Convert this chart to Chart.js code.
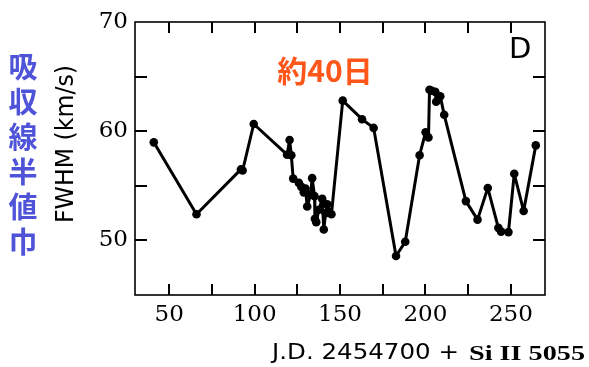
<!DOCTYPE html>
<html>
<head>
<meta charset="utf-8">
<script src="https://cdn.jsdelivr.net/npm/chart.js@4/dist/chart.umd.min.js"></script>
<style>
  html, body { margin: 0; padding: 0; background: #ffffff; }
  #wrap { width: 589px; height: 367px; }
</style>
</head>
<body>
<div id="wrap"><canvas id="c" width="589" height="367"></canvas></div>
<script>
// Julian date offsets (J.D. 2454700 +)
const jd = [41, 66, 92, 93, 99.5, 119, 120.5, 121.5, 122.6, 125.9,
            127.4, 128.8, 129.8, 130.8, 132.8, 133.7, 135.1, 135.3, 136.1, 137.6,
            139.6, 140.5, 141.6, 142.5, 145, 151.6, 162.9, 169.7, 182.8, 188.2,
            196.6, 200.1, 201.8, 202.4, 203.7, 205.8, 206.3, 208.7, 211, 223.7,
            230.5, 236.5, 242.7, 244.3, 248.6, 252, 257.5, 264.6];
// FWHM of Si II 5055 absorption line (km/s)
const fwhm = [58.98, 52.4, 56.5, 56.4, 60.66, 57.85, 59.2, 57.8, 55.66, 55.27,
              54.9, 54.4, 54.75, 53.1, 54.2, 55.7, 54.05, 51.98, 51.67, 52.8,
              53.8, 51.0, 52.5, 53.3, 52.4, 62.8, 61.1, 60.3, 48.57, 49.88,
              57.8, 59.9, 59.43, 63.8, 63.7, 63.6, 62.7, 63.2, 61.5, 53.6,
              51.9, 54.8, 51.15, 50.8, 50.76, 56.1, 52.7, 58.7];
const xTicks = [50, 75, 100, 125, 150, 175, 200, 225, 250];
const yTicks = [45, 50, 55, 60, 65, 70];
const yInner = [50, 55, 60, 65];
const xRange = [30, 270];
const yRange = [45, 70];

const points = jd.map((x, i) => ({ x: x, y: fwhm[i] }));

function fitText(ctx, text, x, y, w, font, color, align, angle) {
  ctx.save();
  ctx.font = font;
  ctx.fillStyle = color;
  ctx.textBaseline = 'alphabetic';
  ctx.textAlign = 'left';
  const m = ctx.measureText(text).width;
  const sx = w / m;
  ctx.translate(x, y);
  if (angle) ctx.rotate(angle);
  ctx.scale(sx, 1);
  let ox = 0;
  if (align === 'center') ox = -m / 2;
  ctx.fillText(text, ox, 0);
  ctx.restore();
}

const framePlugin = {
  id: 'frame',
  afterDraw(chart) {
    const ctx = chart.ctx;
    const a = chart.chartArea;
    const xs = chart.scales.x, ys = chart.scales.y;
    const xp = xTicks.map(v => xs.getPixelForValue(v));
    const yp = yInner.map(v => ys.getPixelForValue(v));
    ctx.save();
    ctx.fillStyle = '#000000';
    for (const px of xp) {
      ctx.fillRect(Math.round(px) - 1, a.bottom - 11, 2, 11);
      ctx.fillRect(Math.round(px) - 1, a.top, 2, 11);
    }
    for (const py of yp) {
      ctx.fillRect(a.left, Math.round(py) - 1, 12, 2);
      ctx.fillRect(a.right - 12, Math.round(py) - 1, 12, 2);
    }
    ctx.strokeStyle = '#000000';
    ctx.lineWidth = 1.6;
    ctx.strokeRect(a.left, a.top, a.right - a.left, a.bottom - a.top);
    ctx.restore();

    // Axis titles and annotations
    fitText(ctx, 'FWHM (km/s)', 73, 144, 158, '24px "DejaVu Sans"', '#000', 'center', -Math.PI / 2);
    fitText(ctx, 'J.D. 2454700 +', 272, 359, 187, '21px "DejaVu Sans"', '#000', 'left', 0);
    fitText(ctx, 'Si II 5055', 469, 360, 116, 'bold 22px "Liberation Serif"', '#000', 'left', 0);

    ctx.save();
    ctx.fillStyle = '#000';
    ctx.font = '29px "DejaVu Sans"';
    ctx.textAlign = 'left';
    ctx.textBaseline = 'alphabetic';
    ctx.fillText('D', 509, 58);

    ctx.fillStyle = '#ff561a';
    ctx.font = 'bold 30px "Noto Sans CJK JP"';
    ctx.textAlign = 'center';
    ctx.textBaseline = 'middle';
    ctx.fillText('約40日', 325, 71);

    ctx.fillStyle = '#4f53d8';
    ctx.font = 'bold 29px "Noto Sans CJK JP"';
    const col = ['吸', '収', '線', '半', '値', '巾'];
    col.forEach((ch, i) => ctx.fillText(ch, 23, 67 + i * 35));
    ctx.restore();
  }
};

new Chart(document.getElementById('c'), {
  type: 'line',
  data: {
    datasets: [{
      data: points,
      borderColor: '#000',
      backgroundColor: '#000',
      borderWidth: 3,
      borderJoinStyle: 'round',
      borderCapStyle: 'round',
      pointRadius: 4.3,
      pointBorderWidth: 0,
      pointBackgroundColor: '#000',
      tension: 0,
      fill: false
    }]
  },
  options: {
    responsive: false,
    devicePixelRatio: 1,
    animation: false,
    layout: { padding: { left: 0, top: 22, right: 44, bottom: 0 } },
    plugins: { legend: { display: false }, tooltip: { enabled: false } },
    scales: {
      x: {
        type: 'linear',
        min: xRange[0], max: xRange[1],
        afterBuildTicks(s) { s.ticks = xTicks.map(v => ({ value: v })); },
        afterFit(s) { s.height = 72; },
        grid: { display: false, drawTicks: false },
        border: { display: false },
        ticks: {
          padding: 6,
          autoSkip: false,
          maxRotation: 0,
          color: '#000',
          font: { family: '"DejaVu Serif"', size: 23 },
          callback: v => (v % 50 === 0 ? String(v) : '')
        }
      },
      y: {
        type: 'linear',
        min: yRange[0], max: yRange[1],
        afterBuildTicks(s) { s.ticks = yTicks.map(v => ({ value: v })); },
        afterFit(s) { s.width = 135; },
        grid: { display: false, drawTicks: false },
        border: { display: false },
        ticks: {
          padding: 7,
          autoSkip: false,
          color: '#000',
          font: { family: '"DejaVu Serif"', size: 23 },
          callback: v => (v % 10 === 0 ? String(v) : '')
        }
      }
    }
  },
  plugins: [framePlugin]
});
</script>
</body>
</html>
